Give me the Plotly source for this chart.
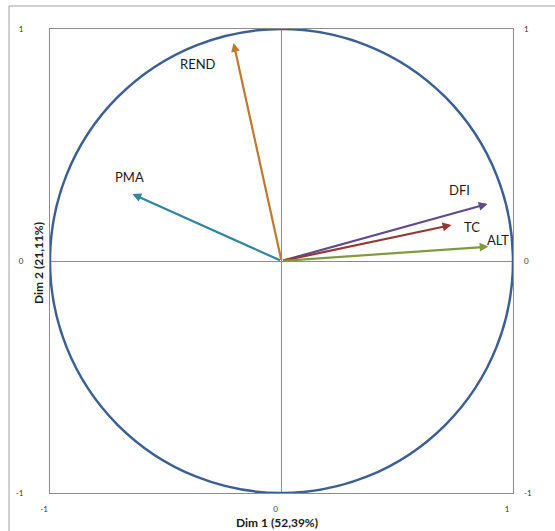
import plotly.graph_objects as go

# Variable coordinates on the first two dimensions
variables = ["REND", "PMA", "DFI", "TC", "ALT"]
dim1 = [-0.207, -0.644, 0.890, 0.734, 0.894]
dim2 = [0.940, 0.289, 0.246, 0.155, 0.062]
colors = ["#C0782F", "#31869B", "#5F4B8B", "#953735", "#7F9A3A"]
# label offsets in pixels (dx, dy) relative to arrow tips
label_dx = [-36, -3, -28, 21, 10]
label_dy = [-21, 17, 14, -2, 7]

tick_vals = [-1, 0, 1]
tick_text = ["-1", "0", "1"]

FONT = "Lato"
fig = go.Figure()

# invisible traces so both y axes render
fig.add_trace(go.Scatter(x=[0], y=[0], mode="markers",
                         marker=dict(size=0.1, color="rgba(0,0,0,0)"),
                         showlegend=False, hoverinfo="skip"))
fig.add_trace(go.Scatter(x=[0], y=[0], mode="markers", yaxis="y2",
                         marker=dict(size=0.1, color="rgba(0,0,0,0)"),
                         showlegend=False, hoverinfo="skip"))

# correlation circle
fig.add_shape(type="circle", xref="x", yref="y", x0=-1, y0=-1, x1=1, y1=1,
              line=dict(color="#3C5F93", width=2.5), layer="above")

# outer chart frame (top and left edges)
fig.add_shape(type="line", xref="paper", yref="paper",
              x0=(9 - 50) / 463, x1=1.2, y0=(493 - 6) / 464, y1=(493 - 6) / 464,
              line=dict(color="#A0A0A0", width=1))
fig.add_shape(type="line", xref="paper", yref="paper",
              x0=(9 - 50) / 463, x1=(9 - 50) / 463, y0=-0.2, y1=(493 - 6) / 464,
              line=dict(color="#A0A0A0", width=1))

for name, x, y, c, dx, dy in zip(variables, dim1, dim2, colors, label_dx, label_dy):
    fig.add_annotation(x=x, y=y, ax=0, ay=0, xref="x", yref="y",
                       axref="x", ayref="y", showarrow=True, text="",
                       arrowhead=2, arrowsize=0.8, arrowwidth=2.2, arrowcolor=c)
    fig.add_annotation(x=x, y=y, xref="x", yref="y", text=name,
                       showarrow=False, xshift=dx, yshift=dy,
                       font=dict(family=FONT, size=13, color="#1a1a1a"))

fig.add_annotation(text="<b>Dim 1 (52,39%)</b>", xref="paper", yref="paper",
                   x=(277 - 50) / 463, y=(493 - 522) / 464, showarrow=False,
                   xanchor="center", yanchor="middle",
                   font=dict(family=FONT, size=12, color="#1a1a1a"))
fig.add_annotation(text="<b>Dim 2 (21,11%)</b>", xref="paper", yref="paper",
                   x=(38 - 50) / 463, y=(493 - 263) / 464, showarrow=False,
                   xanchor="center", yanchor="middle", textangle=-90,
                   font=dict(family=FONT, size=12, color="#1a1a1a"))

axis_common = dict(range=[-1, 1], tickvals=tick_vals, ticktext=tick_text,
                   showgrid=False, ticks="", fixedrange=True,
                   tickfont=dict(family=FONT, size=8, color="#333333"))

fig.update_layout(
    width=555, height=531,
    margin=dict(l=50, r=42, t=29, b=38),
    paper_bgcolor="white", plot_bgcolor="white",
    showlegend=False,
    xaxis=dict(**axis_common, zeroline=True, zerolinecolor="#8C8C8C",
               zerolinewidth=1, showline=True, mirror=True,
               linecolor="#8C8C8C", linewidth=1,
               ticklabelstandoff=8, ticklabelshift=-6),
    yaxis=dict(**axis_common, zeroline=True, zerolinecolor="#8C8C8C",
               zerolinewidth=1, showline=True, mirror=True,
               linecolor="#8C8C8C", linewidth=1, ticklabelstandoff=24),
    yaxis2=dict(**axis_common, overlaying="y", side="right", zeroline=False,
                showline=False, ticklabelstandoff=10),
)

fig.write_html("out.html")
